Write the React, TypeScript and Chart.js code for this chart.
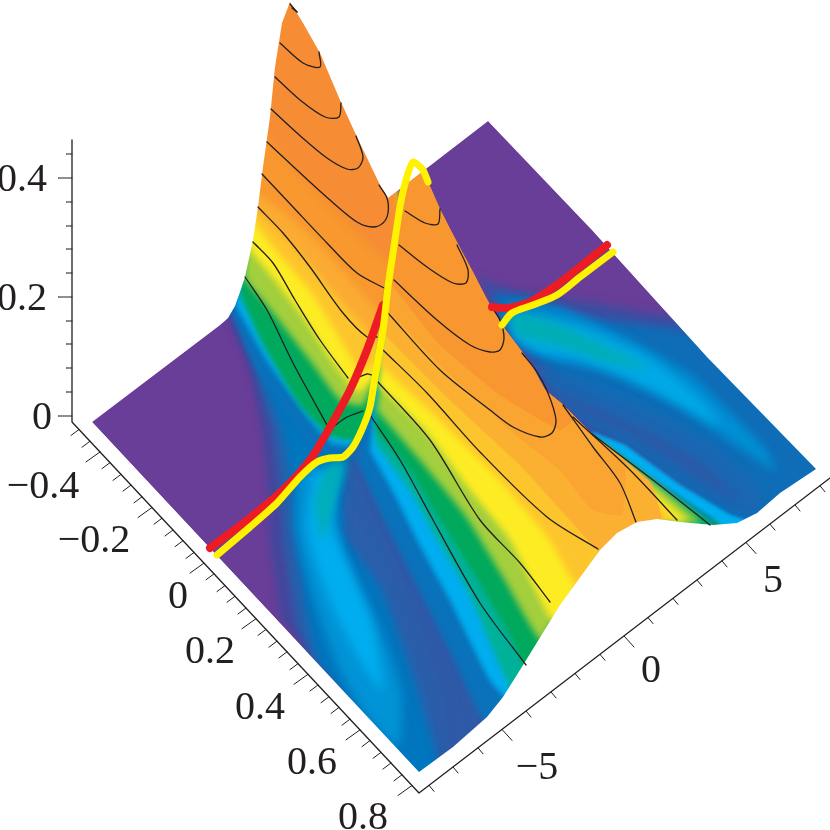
import React, { useEffect, useRef } from "react";
import { Chart, registerables } from "chart.js";

// registered ahead of the filler so the soft edge applies to the filled regions
Chart.register({
  id: "softEdge",
  beforeDatasetDraw(chart: any, args: any) {
    const b = chart.data.datasets[args.index].soft;
    if (b) chart.ctx.filter = `blur(${b}px)`;
  },
  afterDatasetDraw(chart: any) {
    chart.ctx.filter = "none";
  },
} as any);
Chart.register(...registerables);

type P = number[];
const INK = "#231f20";

// ---- outer outline of the surface, as seen on the projection plane
const leftEdgeTop: P[] = [[92,422],[220,325],[228,318],[235,306],[240,292],[245,277],[253,240],[258,207],[263,167],[270,117],[275,67],[282,23],[290,2]];
const ridgeTop: P[] = [[303,23],[320,53],[340,100],[357,137],[380,185],[388,198]];
const backEdge: P[] = [[488,121],[592,230],[707,357],[816,469]];
const frontRim: P[] = [[419,772],[453,747],[487,717],[503,697],[520,670],[560,605],[600,550],[617,533],[637,522],[657,519],[680,522],[713,525],[737,523],[757,513],[780,493],[816,469]];
const ridgeEdge: P[] = [[713,525],[650,480],[592,434],[563,405],[545,390],[530,363],[503,327],[488,302],[473,273],[457,243],[440,210],[428,183],[417,168],[405,190],[397,213]];
// inner closure for soft regions, stays inside the ridge; hump1Outer lies outside the outline
const lowerClose: P[] = [[713,525],[650,482],[590,440],[520,390],[450,320],[395,270]];
const hump1Outer: P[] = [[397,222],[392,180],[365,125],[345,85],[328,40],[310,10],[290,-10],[270,20],[262,67],[258,117],[250,167],[245,207]];
const hump1Sharp: P[] = [[397,213],[380,185],[357,137],[340,100],[320,53],[303,23],[290,2],[282,23],[275,67],[270,117],[263,167]];

// ---- back slope colour regions
const backDark: P[] = [[478,277],[513,292],[547,297],[597,303],[647,313],[690,320],[725,350],[835,465],[800,500],[757,530],[737,540],[713,535],[592,434],[503,327]];
const backBlue: P[] = [[493,293],[530,297],[580,317],[630,323],[680,330],[725,350],[835,465],[800,500],[757,530],[737,540],[700,500],[600,420],[503,327]];
const backMid: P[] = [[507,303],[563,310],[630,340],[693,377],[763,447],[775,470],[680,407],[613,373],[547,357],[517,340]];
const backLight: P[] = [[510,317],[580,327],[647,357],[700,400],[720,425],[647,387],[580,360],[530,350],[513,337]];
const backTeal: P[] = [[503,313],[547,320],[613,350],[647,367],[613,363],[563,347],[520,337]];
const backStripe: P[] = [[520,347],[547,370],[580,383],[647,410],[713,447],[763,497],[747,513],[680,480],[640,450],[590,427],[567,407],[547,387]];
const backStripeCore: P[] = [[545,385],[585,402],[650,432],[710,470],[735,500],[680,465],[630,435],[580,412]];
const rimStrip: P[] = [[592,432],[625,445],[680,485],[730,515],[745,520],[737,528],[713,530],[680,510],[640,477],[592,434]];
const rimGreen: P[] = [[600,440],[650,478],[700,512],[722,525],[700,530],[670,505],[630,470]];
const rimYellow: P[] = [[600,440],[650,480],[690,516],[702,526],[680,526],[640,480]];

// ---- front slope colour regions
const frontIndigo: P[] = [[228,318],[250,370],[262,430],[268,490],[270,545],[281,618],[290,630],[419,780],...frontRim.slice(1,11),...lowerClose,...hump1Outer.slice(1)];
const frontNavy: P[] = [[232,312],[256,375],[272,430],[280,490],[284,545],[295,620],[306,650],[419,780],...frontRim.slice(1,11),...lowerClose,...hump1Outer.slice(1)];
const stripeBlue: P[] = [[236,306],[262,375],[282,430],[292,490],[296,540],[309,625],[320,665],[419,785],[440,770],[410,667],[380,587],[343,533],[345,470],[390,380],[300,250]];
const stripeMid: P[] = [[300,470],[297,530],[318,610],[345,680],[375,725],[398,745],[400,690],[375,620],[345,560],[335,500],[345,465]];
const stripeLight: P[] = [[315,470],[308,530],[330,600],[360,660],[382,690],[372,625],[350,570],[330,520],[335,478]];
const stripeTeal: P[] = [[328,464],[315,500],[322,540],[332,510],[345,462]];
const darkBand: P[] = [[352,460],[362,500],[388,552],[418,625],[438,690],[452,755],[478,735],[450,650],[420,590],[390,530],[362,470]];

const upperBlue: P[] = [[232,312],[262,378],[300,432],[322,450],[345,452],[362,440],[375,400],[390,280],...hump1Outer];
const upperLight: P[] = [[236,305],[268,362],[310,420],[332,443],[352,445],[362,435],[375,400],[390,280],...hump1Outer];
const upperGreen: P[] = [[240,295],[265,348],[300,405],[330,436],[356,440],[365,425],[375,400],[390,280],...hump1Outer];
const upperLime: P[] = [[245,279],[275,315],[310,360],[340,400],[362,405],[372,385],[390,280],...hump1Outer];
const upperYellow: P[] = [[250,250],[275,280],[305,320],[335,365],[358,392],[375,375],[390,280],...hump1Outer];
const upperAmber: P[] = [[256,225],[280,255],[310,290],[335,330],[360,370],[375,365],[390,280],...hump1Outer];
const upperGold: P[] = [[258,212],[282,235],[315,270],[345,305],[385,345],[390,280],...hump1Outer];
const upperOrange: P[] = [[261,195],[285,213],[320,245],[360,290],[388,320],[390,280],...hump1Outer];
const upperTop: P[] = [[267,137],[300,175],[340,215],[375,250],[392,262],...hump1Outer.slice(0,10)];

const lowerBlue: P[] = [[357,460],[390,530],[420,590],[455,660],[487,725],[503,705],...frontRim.slice(4,11),...lowerClose,[375,400]];
const lowerLight: P[] = [[370,450],[395,495],[420,545],[450,600],[490,680],[510,700],[530,675],...frontRim.slice(5,11),...lowerClose,[375,400]];
const lowerTeal: P[] = [[375,443],[410,490],[435,535],[470,595],[512,690],[530,675],...frontRim.slice(5,11),...lowerClose,[375,400]];
const lowerGreen: P[] = [[375,430],[410,470],[440,520],[475,575],[510,635],[530,675],...frontRim.slice(5,11),...lowerClose];
const lowerLime: P[] = [[377,410],[420,460],[465,515],[505,580],[541,640],...frontRim.slice(5,11),[700,522],[650,480],...lowerClose.slice(2)];
const lowerYellow: P[] = [[378,385],[425,430],[470,490],[510,540],[553,622],[565,610],...frontRim.slice(6,11),[688,522],[640,480],...lowerClose.slice(2)];
const lowerAmber: P[] = [[380,365],[440,420],[500,480],[550,540],[580,590],...frontRim.slice(6,10),[672,518],[630,475],...lowerClose.slice(2)];
const lowerGold: P[] = [[385,335],[450,400],[520,465],[570,520],[600,552],[617,535],[637,524],[662,521],[650,482],[592,434],...ridgeEdge.slice(3,14),[390,280]];
const lowerPeach: P[] = [[388,310],[445,370],[510,430],[560,470],[592,510],[622,515],[625,462],[592,434],...ridgeEdge.slice(3,14),[390,280]];
const lowerOrange: P[] = [[392,285],[440,345],[500,395],[560,430],[575,418],[563,405],...ridgeEdge.slice(4,14),[390,280]];

// ---- level curves
const contours: P[][] = [
  [[290,4],[297,12]],
  [[292,8],[297,12]],
  [[280,43],[303,63],[320,67],[319,52]],
  [[275,77],[300,100],[325,117],[339,117],[341,103]],
  [[271,109],[297,133],[327,158],[347,169],[358,168],[363,157],[356,136]],
  [[267,142],[297,170],[330,200],[357,222],[373,227],[383,223],[388,213],[387,198],[379,185]],
  [[262,174],[293,207],[327,243],[357,273],[386,289]],
  [[258,207],[283,233],[310,267],[343,313],[367,337],[377,337]],
  [[253,242],[273,263],[295,300],[320,340],[348,378]],
  [[357,378],[367,374],[372,375]],
  [[245,277],[267,310],[293,363],[327,425]],
  [[333,427],[347,417],[363,411]],
  [[405,211],[425,223],[438,224],[440,209]],
  [[399,245],[427,267],[453,283],[466,283],[468,270],[457,245]],
  [[394,280],[437,320],[470,345],[490,352],[500,350],[504,338],[500,320],[490,305]],
  [[388,313],[440,370],[490,410],[513,427],[540,437],[552,433],[556,420],[548,393],[537,372],[522,353]],
  [[383,350],[427,393],[480,452],[547,517],[598,549]],
  [[378,382],[430,440],[480,520],[520,563],[550,602]],
  [[370,415],[400,460],[433,520],[480,603],[526,665]],
  [[563,405],[593,447],[620,483],[636,522]],
  [[573,417],[630,470],[677,520]],
  [[592,434],[653,480],[710,525]],
];

// ---- the two curves on the surface
const redA: P[] = [[210,548],[250,518],[283,490],[310,460],[330,427],[350,390],[367,350],[383,305]];
const redB: P[] = [[492,307],[507,308],[530,302],[557,285],[580,267],[607,245]];
const yellowA: P[] = [[428,182],[423,170],[413,162],[406,180],[400,207],[393,253],[388,287],[383,330],[375,377],[370,407],[363,427],[353,447],[343,457],[330,458],[317,462],[300,477],[277,503],[250,527],[217,555]];
const yellowB: P[] = [[502,325],[512,313],[533,305],[557,295],[580,277],[613,252]];

// ---- axes
const axisLines: P[][] = [
  [[72,140],[72,422],[419,793],[830,478]],
];
const zMajorY = [178,297,416];
const zMinorY = [154,202,226,249,273,321,344,368,392];
const xMajorX = [100,152,204,256,308,360,412];
const xMinorX = [79,90,110,121,131,142,162,173,183,194,214,225,235,246,266,277,287,298,318,329,339,350,370,381,391,402];
const yMajorX = [502,624,746];
const yMinorX = [429,453,478,526,551,575,600,648,673,697,722,770,795,820];

const labels: [string, number, number][] = [
  ["0.4",22,180],["0.2",22,299],["0",42,418],
  ["\u22120.4",43,487],["\u22120.2",94,541],
  ["0",178,597],["0.2",210,652],["0.4",260,708],["0.6",312,763],["0.8",363,818],
  ["\u22125",537,768],["0",651,671],["5",773,581],
];

const pts = (a: P[]) => a.map(([x, y]) => ({ x, y }));
const xAxisY = (x: number) => 422 + (x - 72) * 1.069;
const yAxisY = (x: number) => 793 - (x - 419) * 0.766;

const outline: P[] = [...leftEdgeTop, ...ridgeTop, ...backEdge, ...[...frontRim].reverse()];
const pageFrame: P[] = [[0,0],[0,830],[830,830],[830,0],[0,0]];

const fills: [P[], string, number, number][] = [
  [outline, "#693e98", 0, 0],
  [backDark, "#3d4fa2", 0.1, 4],
  [backBlue, "#0f6db7", 0.1, 4],
  [backMid, "#0090d4", 0.2, 5],
  [backLight, "#00a9e6", 0.25, 5],
  [backTeal, "#00aeb4", 0.25, 5],
  [backStripe, "#1b67b2", 0.2, 4],
  [backStripeCore, "#2c5aa8", 0.2, 4],
  [rimStrip, "#00aeef", 0, 1.5],
  [rimGreen, "#00a65a", 0, 1.5],
  [rimYellow, "#c8d92f", 0, 1.5],
  [frontIndigo, "#45479d", 0, 3],
  [frontNavy, "#2b5fab", 0, 3],
  [stripeBlue, "#0076be", 0.1, 4],
  [stripeMid, "#0094d6", 0.25, 5],
  [stripeLight, "#00aeef", 0.25, 5],
  [stripeTeal, "#00aeb8", 0.2, 4],
  [darkBand, "#2f5aa8", 0.2, 4],
  [upperBlue, "#0a72bb", 0.15, 2.5],
  [upperLight, "#00aeef", 0.15, 2.5],
  [upperGreen, "#00a95c", 0.15, 2.5],
  [upperLime, "#a3cf3e", 0.15, 3],
  [upperYellow, "#fdec24", 0.15, 3],
  [upperAmber, "#fdc52d", 0.15, 3],
  [upperGold, "#fbab33", 0.15, 3],
  [upperOrange, "#f8982f", 0.15, 3],
  [upperTop, "#f68d35", 0.15, 3],
  [lowerBlue, "#0a72bb", 0.15, 2.5],
  [lowerLight, "#00aeef", 0.15, 2.5],
  [lowerTeal, "#00b19a", 0.15, 2.5],
  [lowerGreen, "#00a95c", 0.15, 2.5],
  [lowerLime, "#a3cf3e", 0.15, 3],
  [lowerYellow, "#fdec24", 0.15, 3],
  [lowerAmber, "#fdc52d", 0.15, 3],
  [lowerGold, "#fcb032", 0.1, 0],
  [lowerPeach, "#faa431", 0.1, 0],
  [lowerOrange, "#f8962f", 0.1, 0],
];

const line = (a: P[], color: string, width: number, tension = 0) => ({
  data: pts(a), showLine: true, fill: false, borderColor: color, borderWidth: width,
  pointRadius: 0, tension, borderCapStyle: "round" as const, borderJoinStyle: "round" as const,
});

export default function App() {
  const ref = useRef<HTMLCanvasElement>(null);
  useEffect(() => {
    document.body.style.margin = "0";
    const layers: any[] = [
      ...fills.map(([a, c, t, soft]) => ({
        data: pts(a), showLine: true, fill: "shape", backgroundColor: c, borderColor: c,
        borderWidth: 0.5, pointRadius: 0, tension: t, soft,
      })),
      // everything outside the outline stays paper white
      {
        data: pts([...pageFrame, ...outline, outline[0], pageFrame[0]]), showLine: true, fill: "shape",
        backgroundColor: "#ffffff", borderColor: "rgba(0,0,0,0)", borderWidth: 0, pointRadius: 0, tension: 0,
      },
      ...contours.map((c) => line(c, INK, 1.3, 0.3)),
      line(redA, "#ed1c24", 8, 0.3),
      line(redB, "#ed1c24", 8, 0.3),
      line(yellowA, "#fff200", 7, 0.2),
      line(yellowB, "#fff200", 7, 0.3),
      ...axisLines.map((a) => line(a, INK, 1.3)),
      ...zMajorY.map((y) => line([[58,y],[72,y]], INK, 1)),
      ...zMinorY.map((y) => line([[66,y],[72,y]], INK, 1)),
      ...xMajorX.map((x) => line([[x,xAxisY(x)],[x-14,xAxisY(x)+10]], INK, 1)),
      ...xMinorX.map((x) => line([[x,xAxisY(x)],[x-8,xAxisY(x)+6]], INK, 1)),
      ...yMajorX.map((x) => line([[x,yAxisY(x)],[x+10,yAxisY(x)+11]], INK, 1)),
      ...yMinorX.map((x) => line([[x,yAxisY(x)],[x+5,yAxisY(x)+6]], INK, 1)),
    ];
    const n = layers.length;
    layers.forEach((d, i) => (d.order = n - i));
    const textPlugin = {
      id: "tickText",
      afterDraw(chart: any) {
        const { ctx, scales } = chart;
        ctx.save();
        ctx.font = '40px "Liberation Serif"';
        ctx.fillStyle = INK;
        ctx.textAlign = "center";
        ctx.textBaseline = "middle";
        labels.forEach(([t, x, y]) => ctx.fillText(t, scales.x.getPixelForValue(x), scales.y.getPixelForValue(y)));
        ctx.restore();
      },
    };
    const chart = new Chart(ref.current!, {
      type: "scatter",
      data: { datasets: layers },
      options: {
        animation: false,
        responsive: false,
        layout: { padding: 0 },
        scales: {
          x: { type: "linear", min: 0, max: 830, display: false },
          y: { type: "linear", min: 0, max: 830, reverse: true, display: false },
        },
        plugins: { legend: { display: false }, tooltip: { enabled: false }, title: { display: false } },
      },
      plugins: [textPlugin],
    } as any);
    return () => chart.destroy();
  }, []);
  return (
    <div style={{ width: 830, height: 830 }}>
      <canvas ref={ref} width={830} height={830} style={{ display: "block", width: 830, height: 830 }} />
    </div>
  );
}
